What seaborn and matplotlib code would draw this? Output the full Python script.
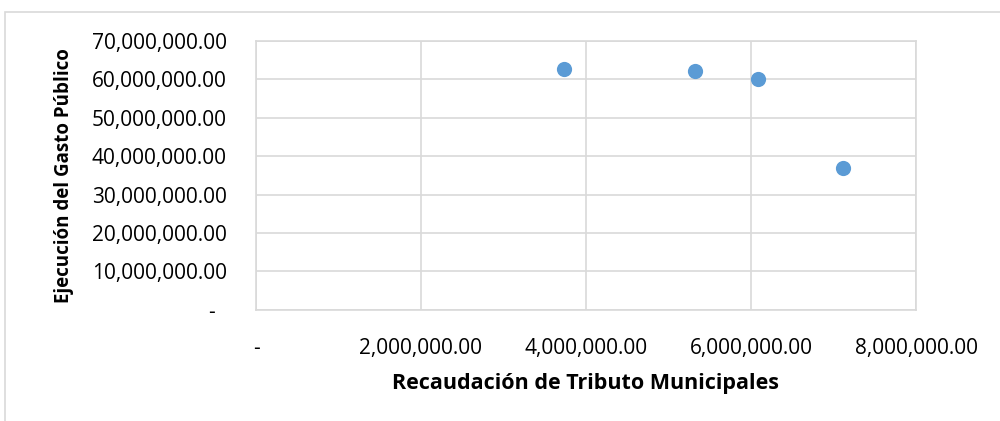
import matplotlib
matplotlib.use("Agg")
import matplotlib.pyplot as plt
import seaborn as sns
import pandas as pd
from matplotlib.patches import Rectangle

# Data
recaudacion = [3737000, 5325000, 6085000, 7119000]
gasto = [62500000, 62100000, 60000000, 37000000]

x_ticks = [0, 2000000, 4000000, 6000000, 8000000]
y_ticks = [0, 10000000, 20000000, 30000000, 40000000, 50000000, 60000000, 70000000]

x_label = "Recaudación de Tributo Municipales"
y_label = "Ejecución del Gasto Público"

df = pd.DataFrame({"recaudacion": recaudacion, "gasto": gasto})

sns.set_style("white")
plt.rcParams["font.family"] = ["Open Sans", "DejaVu Sans"]
plt.rcParams["text.color"] = "black"
plt.rcParams["axes.labelcolor"] = "black"

grid_color = "#D9D9D9"
point_color = "#5B9BD5"

fig = plt.figure(figsize=(10, 4.21), dpi=100)
# outer chart frame like Excel
fig.patches.append(Rectangle((0.005, -0.1), 1.2, 1.072, transform=fig.transFigure,
                             fill=False, edgecolor=grid_color, linewidth=1.2))

ax = fig.add_axes([0.256, 0.2637, 0.66, 0.640])
sns.scatterplot(data=df, x="recaudacion", y="gasto", ax=ax, s=120,
                color=point_color, edgecolor=point_color, linewidth=0, zorder=3)

ax.set_xlim(0, 8000000)
ax.set_ylim(0, 70000000)
ax.set_xticks(x_ticks)
ax.set_yticks(y_ticks)


def fmt(v):
    return "-" if v == 0 else f"{v:,.2f}"


ax.set_xticklabels([fmt(v) for v in x_ticks])
ax.set_yticklabels([fmt(v) + ("  " if v == 0 else "") for v in y_ticks])
ax.tick_params(axis="both", length=0, labelsize=15, colors="black")
ax.tick_params(axis="x", pad=20)
ax.tick_params(axis="y", pad=21)

ax.grid(True, color=grid_color, linewidth=1.2)
ax.set_axisbelow(True)
for sp in ax.spines.values():
    sp.set_visible(True)
    sp.set_color(grid_color)
    sp.set_linewidth(1.2)

ax.set_xlabel(x_label, fontsize=15.5, fontweight="bold", labelpad=10)
ax.set_ylabel(y_label, fontsize=13.5, fontweight="bold", labelpad=13)

fig.savefig("out.png", dpi=100)
